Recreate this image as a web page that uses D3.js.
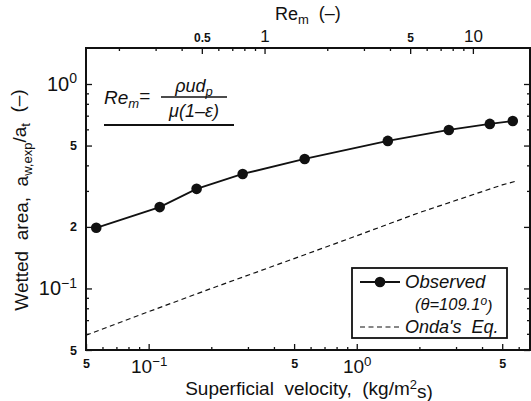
<!DOCTYPE html>
<meta charset="utf-8">
<style>
  html, body { margin: 0; background: #fff; }
  svg text { font-family: "Liberation Sans", Arial, sans-serif; fill: #111; white-space: pre; }
  .frame { fill: none; stroke: #111; stroke-width: 2; }
  .axis path { display: none; }
  .axis line { stroke: #111; stroke-width: 1.3; }
</style>
<body>
<script src="https://cdn.jsdelivr.net/npm/d3@7/dist/d3.min.js"></script>
<script>
// observed wetted area vs superficial velocity
var velocity = [0.056, 0.113, 0.170, 0.283, 0.562, 1.41, 2.77, 4.36, 5.62];
var wetted   = [0.198, 0.250, 0.307, 0.363, 0.430, 0.527, 0.596, 0.638, 0.659];

// Onda's equation (dashed)
var ondaVelocity = [0.05, 0.1, 0.2, 0.5, 1, 2, 5, 5.9];
var ondaWetted   = [0.059, 0.077, 0.100, 0.140, 0.181, 0.235, 0.321, 0.336];

var xDomain = [0.05, 6.8];
var yDomain = [0.05, 1.5];
var reDomain = [0.139, 18.8];

// tick labels: [value, base, superscript] or [value, plain label]
var xTicks = [[0.05, "5"], [0.1, "10", "\u22121"], [0.5, "5"], [1, "10", "0"], [5, "5"]];
var xMinor = [0.06, 0.07, 0.08, 0.09, 0.2, 0.3, 0.4, 0.6, 0.7, 0.8, 0.9, 2, 3, 4, 6];
var yTicks = [[0.05, "5"], [0.1, "10", "\u22121"], [0.2, "2"], [0.5, "5"], [1, "10", "0"]];
var yMinor = [0.06, 0.07, 0.08, 0.09, 0.3, 0.4, 0.6, 0.7, 0.8, 0.9];
var reTicks = [[0.5, "0.5"], [1, "1"], [5, "5"], [10, "10"]];
var reMinor = [0.2, 0.3, 0.4, 0.6, 0.7, 0.8, 0.9, 2, 3, 4, 6, 7, 8, 9];

var W = 531, H = 401;
var margin = { top: 48, right: 1, bottom: 51, left: 86 };
var width = W - margin.left - margin.right,
    height = H - margin.top - margin.bottom;

var svg = d3.select("body").append("svg")
  .attr("width", W).attr("height", H);
var g = svg.append("g")
  .attr("transform", "translate(" + margin.left + "," + margin.top + ")");

var x = d3.scaleLog().domain(xDomain).range([0, width]);
var y = d3.scaleLog().domain(yDomain).range([height, 0]);
var xr = d3.scaleLog().domain(reDomain).range([0, width]);

// label writer: big "10" with superscript, small bold digits otherwise
function writeLabel(sel, ticks, bigSize, smallSize) {
  sel.each(function (d) {
    var t = ticks.find(function (k) { return k[0] === d; });
    var el = d3.select(this).text(null);
    if (t.length === 3) {
      el.style("font-size", bigSize + "px");
      el.append("tspan").text(t[1]);
      el.append("tspan").attr("dy", "-0.55em").style("font-size", (bigSize * 0.7) + "px").text(t[2]);
    } else {
      el.style("font-size", smallSize + "px").style("font-weight", "bold").text(t[1]);
    }
  });
}

// bottom axis
var gxb = g.append("g").attr("class", "axis").attr("transform", "translate(0," + height + ")")
  .call(d3.axisBottom(x).tickValues(xTicks.map(function (d) { return d[0]; })).tickSize(-6).tickPadding(7));
gxb.selectAll("text").call(writeLabel, xTicks, 19, 12.5);
gxb.selectAll(".tick text").attr("dy", "0.85em");
g.append("g").attr("class", "axis").attr("transform", "translate(0," + height + ")")
  .call(d3.axisBottom(x).tickValues(xMinor).tickSize(-3).tickFormat(""));

// left axis
var gyl = g.append("g").attr("class", "axis")
  .call(d3.axisLeft(y).tickValues(yTicks.map(function (d) { return d[0]; })).tickSize(-6).tickPadding(9));
gyl.selectAll("text").call(writeLabel, yTicks, 20, 12.5);
g.append("g").attr("class", "axis")
  .call(d3.axisLeft(y).tickValues(yMinor).tickSize(-3).tickFormat(""));

// right axis (ticks only)
g.append("g").attr("class", "axis").attr("transform", "translate(" + width + ",0)")
  .call(d3.axisRight(y).tickValues(yTicks.map(function (d) { return d[0]; })).tickSize(-6).tickFormat(""));
g.append("g").attr("class", "axis").attr("transform", "translate(" + width + ",0)")
  .call(d3.axisRight(y).tickValues(yMinor).tickSize(-3).tickFormat(""));

// top axis: Re_m
var gxt = g.append("g").attr("class", "axis")
  .call(d3.axisTop(xr).tickValues(reTicks.map(function (d) { return d[0]; })).tickSize(-6).tickPadding(6)
    .tickFormat(function (d) { return reTicks.find(function (k) { return k[0] === d; })[1]; }));
gxt.selectAll("text").each(function (d) {
  var big = d === 1 || d === 10;
  d3.select(this).style("font-size", big ? "17px" : "12px").style("font-weight", big ? "normal" : "bold");
});
g.append("g").attr("class", "axis")
  .call(d3.axisTop(xr).tickValues(reMinor).tickSize(-3).tickFormat(""));

g.append("rect").attr("class", "frame").attr("width", width).attr("height", height);

// Onda's eq. dashed line
var ondaData = ondaVelocity.map(function (v, i) { return [v, ondaWetted[i]]; });
var line = d3.line().x(function (d) { return x(d[0]); }).y(function (d) { return y(d[1]); });
g.append("path").datum(ondaData).attr("d", line)
  .attr("fill", "none").attr("stroke", "#111").attr("stroke-width", 1.2).attr("stroke-dasharray", "5,3.5");

// observed
var obsData = velocity.map(function (v, i) { return [v, wetted[i]]; });
g.append("path").datum(obsData).attr("d", line)
  .attr("fill", "none").attr("stroke", "#111").attr("stroke-width", 1.8);
g.selectAll(".pt").data(obsData).enter().append("circle")
  .attr("class", "pt")
  .attr("cx", function (d) { return x(d[0]); })
  .attr("cy", function (d) { return y(d[1]); })
  .attr("r", 5.3).attr("fill", "#111");

// axis titles
var xt = svg.append("text").attr("x", 309).attr("y", 395).attr("text-anchor", "middle").style("font-size", "19px");
xt.append("tspan").text("Superficial  velocity,  (kg/m");
xt.append("tspan").attr("dy", "-0.45em").style("font-size", "13px").text("2");
xt.append("tspan").attr("dy", "0.45em").text("s)");

var yt = svg.append("text").attr("transform", "translate(28,200) rotate(-90)")
  .attr("text-anchor", "middle").style("font-size", "19px");
yt.append("tspan").text("Wetted  area,  a");
yt.append("tspan").attr("dy", "0.3em").style("font-size", "13px").text("w,exp");
yt.append("tspan").attr("dy", "-0.3em").text("/a");
yt.append("tspan").attr("dy", "0.3em").style("font-size", "13px").text("t");
yt.append("tspan").attr("dy", "-0.3em").text("  (\u2013)");

var rt = svg.append("text").attr("x", 275).attr("y", 20).style("font-size", "18px");
rt.append("tspan").text("Re");
rt.append("tspan").attr("dy", "0.3em").style("font-size", "13px").text("m");
rt.append("tspan").attr("dy", "-0.3em").text("  (\u2013)");

// formula box
var f = svg.append("g").style("font-style", "italic");
var fr = f.append("text").attr("x", 104).attr("y", 104).style("font-size", "19px");
fr.append("tspan").text("Re");
fr.append("tspan").attr("dy", "0.3em").style("font-size", "13px").text("m");
fr.append("tspan").attr("dy", "-0.3em").style("font-style", "normal").text("=");
var fn = f.append("text").attr("x", 194).attr("y", 92).attr("text-anchor", "middle").style("font-size", "18px");
fn.append("tspan").text("\u03c1ud");
fn.append("tspan").attr("dy", "0.3em").style("font-size", "13px").text("p");
f.append("line").attr("x1", 161).attr("x2", 227).attr("y1", 97).attr("y2", 97).attr("stroke", "#111").attr("stroke-width", 1.3);
f.append("text").attr("x", 194).attr("y", 117).attr("text-anchor", "middle").style("font-size", "18px").text("\u03bc(1\u2013\u03b5)");
svg.append("line").attr("x1", 104).attr("x2", 234).attr("y1", 125).attr("y2", 125).attr("stroke", "#111").attr("stroke-width", 1.8);

// legend
var lg = svg.append("g");
lg.append("rect").attr("x", 352).attr("y", 268).attr("width", 155).attr("height", 70)
  .attr("fill", "#fff").attr("stroke", "#111").attr("stroke-width", 1.8);
lg.append("line").attr("x1", 360).attr("x2", 400).attr("y1", 282).attr("y2", 282).attr("stroke", "#111").attr("stroke-width", 1.8);
lg.append("circle").attr("cx", 380).attr("cy", 282).attr("r", 5.3).attr("fill", "#111");
lg.append("text").attr("x", 405).attr("y", 288).style("font-size", "18.5px").style("font-style", "italic").text("Observed");
var th = lg.append("text").attr("x", 415).attr("y", 310).style("font-size", "16.5px").style("font-style", "italic");
th.append("tspan").text("(\u03b8=109.1");
th.append("tspan").attr("dy", "-0.45em").style("font-size", "12px").text("o");
th.append("tspan").attr("dy", "0.45em").text(")");
lg.append("line").attr("x1", 360).attr("x2", 400).attr("y1", 327).attr("y2", 327).attr("stroke", "#111")
  .attr("stroke-width", 1.2).attr("stroke-dasharray", "5,3.5");
lg.append("text").attr("x", 405).attr("y", 333).style("font-size", "18px").style("font-style", "italic").text("Onda's  Eq.");
</script>
</body>
